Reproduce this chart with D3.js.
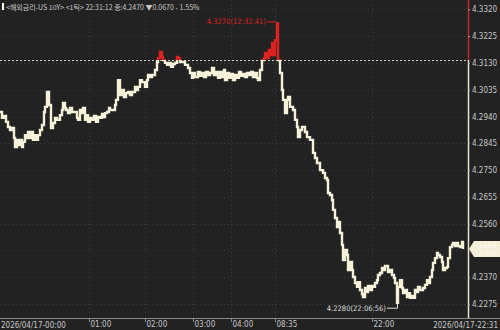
<!DOCTYPE html>
<html>
<head>
<meta charset="utf-8">
<script src="https://cdn.jsdelivr.net/npm/d3@7"></script>
<style>
  html, body { margin: 0; padding: 0; background: #222222; }
  #container { width: 500px; height: 330px; }
</style>
</head>
<body>
<div id="container"></div>
<script>
// tick sequence position and price (US 10Y, 1 tick)
var seq = [0,2,4,6,8,10,12,14,15,17,19,20,22,23,25,27,28,30,31,33,35,36,38,40,42,44,45,47,49,51,53,55,57,60,62,63,65,66,68,70,72,75,77,78,80,82,83,85,87,88,90,92,94,96,98,100,102,103,105,107,109,110,113,115,116,118,120,122,124,126,128,130,132,135,137,138,140,142,145,147,148,150,152,155,157,158,160,162,163,165,167,169,171,173,175,177,178,180,182,185,187,188,190,192,193,195,198,200,202,204,206,208,210,212,214,216,218,220,222,224,225,227,229,231,233,235,237,239,241,243,245,247,249,251,253,255,257,258,260,262,264,265,267,269,270,272,273,275,277,278,280,282,283,285,287,288,290,293,295,297,298,300,302,303,305,307,310,313,315,317,320,323,325,327,328,330,332,333,335,337,338,340,342,343,345,347,348,350,352,353,355,357,358,360,362,363,365,367,368,370,372,373,375,377,378,380,382,383,385,388,390,392,394,395,397,398,400,402,403,405,407,409,410,412,413,415,417,418,420,423,425,427,428,430,432,433,435,437,438,440,442,443,445,447,448,450,452,453,455,457,458,460,462,463];
var price = [4.2956,4.2935,4.2942,4.2921,4.2903,4.2892,4.2899,4.2864,4.2832,4.2857,4.2839,4.2857,4.2832,4.2850,4.2874,4.2864,4.2885,4.2864,4.2885,4.2857,4.2874,4.2857,4.2874,4.2892,4.2910,4.2956,4.2974,4.3027,4.2981,4.2899,4.2917,4.2935,4.2928,4.2945,4.2963,4.2988,4.2970,4.2963,4.2952,4.2970,4.2956,4.2956,4.2935,4.2928,4.2963,4.2952,4.2970,4.2928,4.2945,4.2921,4.2935,4.2928,4.2942,4.2921,4.2938,4.2935,4.2949,4.2938,4.2952,4.2956,4.2970,4.2963,4.2963,4.2981,4.2999,4.3069,4.3016,4.3034,4.3009,4.3023,4.3027,4.3016,4.3027,4.3045,4.3034,4.3045,4.3069,4.3062,4.3045,4.3069,4.3087,4.3080,4.3087,4.3105,4.3133,4.3147,4.3169,4.3151,4.3140,4.3130,4.3123,4.3130,4.3116,4.3126,4.3130,4.3151,4.3147,4.3133,4.3133,4.3123,4.3123,4.3112,4.3094,4.3077,4.3094,4.3080,4.3098,4.3084,4.3094,4.3080,4.3098,4.3087,4.3094,4.3112,4.3087,4.3098,4.3077,4.3098,4.3080,4.3105,4.3069,4.3094,4.3077,4.3091,4.3069,4.3087,4.3077,4.3098,4.3084,4.3091,4.3080,4.3094,4.3087,4.3098,4.3080,4.3094,4.3077,4.3069,4.3105,4.3140,4.3147,4.3165,4.3147,4.3176,4.3158,4.3201,4.3158,4.3211,4.3270,4.3140,4.3094,4.3034,4.2999,4.2952,4.2999,4.3009,4.2974,4.2963,4.2928,4.2903,4.2867,4.2892,4.2903,4.2903,4.2885,4.2867,4.2857,4.2811,4.2793,4.2775,4.2750,4.2740,4.2722,4.2715,4.2669,4.2662,4.2644,4.2609,4.2580,4.2548,4.2566,4.2527,4.2485,4.2431,4.2467,4.2449,4.2396,4.2424,4.2396,4.2371,4.2350,4.2336,4.2353,4.2325,4.2311,4.2300,4.2332,4.2318,4.2339,4.2325,4.2339,4.2336,4.2350,4.2360,4.2378,4.2385,4.2403,4.2396,4.2410,4.2389,4.2396,4.2378,4.2368,4.2350,4.2280,4.2336,4.2360,4.2332,4.2314,4.2325,4.2300,4.2314,4.2297,4.2304,4.2297,4.2325,4.2318,4.2336,4.2325,4.2332,4.2343,4.2360,4.2350,4.2371,4.2396,4.2421,4.2438,4.2456,4.2449,4.2442,4.2424,4.2396,4.2403,4.2407,4.2438,4.2477,4.2485,4.2492,4.2481,4.2492,4.2481,4.2477,4.2495,4.2470];

var prevClose = 4.3140
var lastPrice = 4.2470
var priceTicks = [4.3320, 4.3225, 4.3130, 4.3035, 4.2940, 4.2845, 4.2750, 4.2655, 4.2560, 4.2465, 4.2370, 4.2275]
var hiddenLabel = 4.2465 // covered by the last price box
var timeTicks = [89, 145, 193, 231, 275, 372]
var timeLabels = ["01:00", "02:00", "03:00", "04:00", "08:35", "22:00"]
var headerText = "<해외금리-US 10Y> <1틱> 22:31:12 종:4.2470 ▼0.0670 - 1.55%"

function drawChart() {
  var width = 500
  var height = 330
  var plotRight = 468
  var axisY = 318
  var cream = "#f6f1d9"
  var red = "#dd2222"
  var font = "'Liberation Sans Narrow', 'DejaVu Sans Condensed', 'Liberation Sans', sans-serif"

  var svg = d3.select("#container")
    .append("svg")
    .attr("width", width)
    .attr("height", height)
    .style("background", "#222222")

  var x = d3.scaleLinear().domain([0, 468]).range([0, plotRight])
  var y = d3.scaleLinear().domain([4.2275, 4.3320]).range([304.1, 9.3])

  var data = seq.map(function(s, i) { return { s: s, v: price[i] } })
  var refY = y(prevClose)

  // faint grid
  svg.append("g")
    .selectAll("line")
    .data(priceTicks)
    .enter()
    .append("line")
    .attr("x1", 0)
    .attr("x2", plotRight)
    .attr("y1", (d) => Math.round(y(d)) + 0.5)
    .attr("y2", (d) => Math.round(y(d)) + 0.5)
    .attr("stroke", "#3d3d3d")
    .attr("stroke-dasharray", "1,3")

  svg.append("g")
    .selectAll("line")
    .data(timeTicks)
    .enter()
    .append("line")
    .attr("x1", (d) => x(d) + 0.5)
    .attr("x2", (d) => x(d) + 0.5)
    .attr("y1", 0)
    .attr("y2", axisY)
    .attr("stroke", "#3d3d3d")
    .attr("stroke-dasharray", "1,3")

  // previous close line
  svg.append("line")
    .attr("x1", 0)
    .attr("x2", plotRight)
    .attr("y1", Math.round(refY) + 0.5)
    .attr("y2", Math.round(refY) + 0.5)
    .attr("stroke", "#cfcfcf")
    .attr("stroke-dasharray", "2,2")

  // clips: red above previous close, cream below
  var defs = svg.append("defs")
  defs.append("clipPath").attr("id", "above")
    .append("rect").attr("x", 0).attr("y", 0).attr("width", plotRight).attr("height", refY)
  defs.append("clipPath").attr("id", "below")
    .append("rect").attr("x", 0).attr("y", refY).attr("width", plotRight).attr("height", axisY - refY)

  var line = d3.line()
    .x((d) => x(d.s))
    .y((d) => y(d.v))
    .curve(d3.curveStepAfter)

  svg.append("path")
    .datum(data)
    .attr("clip-path", "url(#below)")
    .attr("d", line)
    .attr("fill", "none")
    .attr("stroke", cream)
    .attr("stroke-width", 2.4)

  svg.append("path")
    .datum(data)
    .attr("clip-path", "url(#above)")
    .attr("d", line)
    .attr("fill", "none")
    .attr("stroke", red)
    .attr("stroke-width", 2.4)

  // right axis line
  svg.append("line")
    .attr("x1", plotRight + 0.5).attr("x2", plotRight + 0.5)
    .attr("y1", 0).attr("y2", refY)
    .attr("stroke", "#c02828").attr("stroke-width", 1.5)
  svg.append("line")
    .attr("x1", plotRight + 0.5).attr("x2", plotRight + 0.5)
    .attr("y1", refY).attr("y2", axisY)
    .attr("stroke", "#e8e4cc").attr("stroke-width", 1.5)

  var yAxis = svg.append("g")
    .attr("transform", "translate(" + plotRight + ",0)")
    .call(d3.axisRight(y)
      .tickValues(priceTicks.filter((d) => d !== hiddenLabel))
      .tickSize(2)
      .tickFormat(d3.format(".4f")))
  yAxis.select(".domain").remove()
  yAxis.selectAll("line").attr("stroke", "#aaaaaa")
  yAxis.selectAll("text")
    .attr("x", 4)
    .attr("fill", "#c8c8c8")
    .style("font-family", font)
    .style("font-size", "8px")

  // bottom axis
  svg.append("line")
    .attr("x1", 0).attr("x2", width)
    .attr("y1", axisY + 0.5).attr("y2", axisY + 0.5)
    .attr("stroke", "#8a8a8a")

  var xAxis = svg.append("g")
    .attr("transform", "translate(0," + axisY + ")")
    .call(d3.axisBottom(x).tickValues(timeTicks).tickSize(4).tickFormat((d, i) => timeLabels[i]))
  xAxis.select(".domain").remove()
  xAxis.selectAll("line").attr("stroke", "#8a8a8a")
  xAxis.selectAll("text")
    .attr("text-anchor", "start")
    .attr("x", 1)
    .attr("y", 3)
    .attr("fill", "#c8c8c8")
    .style("font-family", font)
    .style("font-size", "8px")

  svg.append("text")
    .attr("x", 1).attr("y", 328)
    .attr("fill", "#c8c8c8")
    .style("font-family", font).style("font-size", "8px")
    .text("2026/04/17-00:00")
  svg.append("text")
    .attr("x", 498).attr("y", 328)
    .attr("text-anchor", "end")
    .attr("fill", "#c8c8c8")
    .style("font-family", font).style("font-size", "8px")
    .text("2026/04/17-22:31")

  // high / low marks
  var hi = data.reduce((a, b) => b.v > a.v ? b : a)
  var lo = data.reduce((a, b) => b.v < a.v ? b : a)

  svg.append("path")
    .attr("d", "M" + (x(hi.s) - 10) + "," + (y(hi.v) - 1.5) + "H" + (x(hi.s) - 1))
    .attr("stroke", red).attr("fill", "none")
  svg.append("text")
    .attr("x", x(hi.s) - 11).attr("y", y(hi.v) + 1)
    .attr("text-anchor", "end")
    .attr("fill", red)
    .style("font-family", font).style("font-size", "7.5px")
    .text(d3.format(".4f")(hi.v) + "(12:32:41)")

  svg.append("path")
    .attr("d", "M" + (x(lo.s) - 10) + "," + (y(lo.v) + 5.5) + "H" + (x(lo.s) + 0.5) + "V" + y(lo.v))
    .attr("stroke", "#dddddd").attr("fill", "none")
  svg.append("text")
    .attr("x", x(lo.s) - 11).attr("y", y(lo.v) + 8)
    .attr("text-anchor", "end")
    .attr("fill", "#dddddd")
    .style("font-family", font).style("font-size", "7.5px")
    .text(d3.format(".4f")(lo.v) + "(22:06:56)")

  // last price box
  var ly = y(lastPrice)
  svg.append("path")
    .attr("d", "M469," + ly + "L474," + (ly - 8) + "H500V" + (ly + 8) + "H474Z")
    .attr("fill", "#f4efd6")
  svg.append("text")
    .attr("x", 478).attr("y", ly - 1.5)
    .attr("fill", "#ffffff")
    .style("font-family", font).style("font-size", "6px")
    .text(d3.format(".4f")(lastPrice))
  svg.append("text")
    .attr("x", 478).attr("y", ly + 6)
    .attr("fill", "#ffffff")
    .style("font-family", font).style("font-size", "6px")
    .text("-1.55%")

  // header
  svg.append("rect")
    .attr("x", 2).attr("y", 3).attr("width", 2).attr("height", 7)
    .attr("fill", "#ffffff")
  svg.append("text")
    .attr("x", 6).attr("y", 10)
    .attr("fill", "#c8c8c8")
    .style("font-family", "'Noto Sans CJK KR', " + font)
    .style("font-size", "7px")
    .text(headerText)
}

drawChart();
</script>
</body>
</html>
